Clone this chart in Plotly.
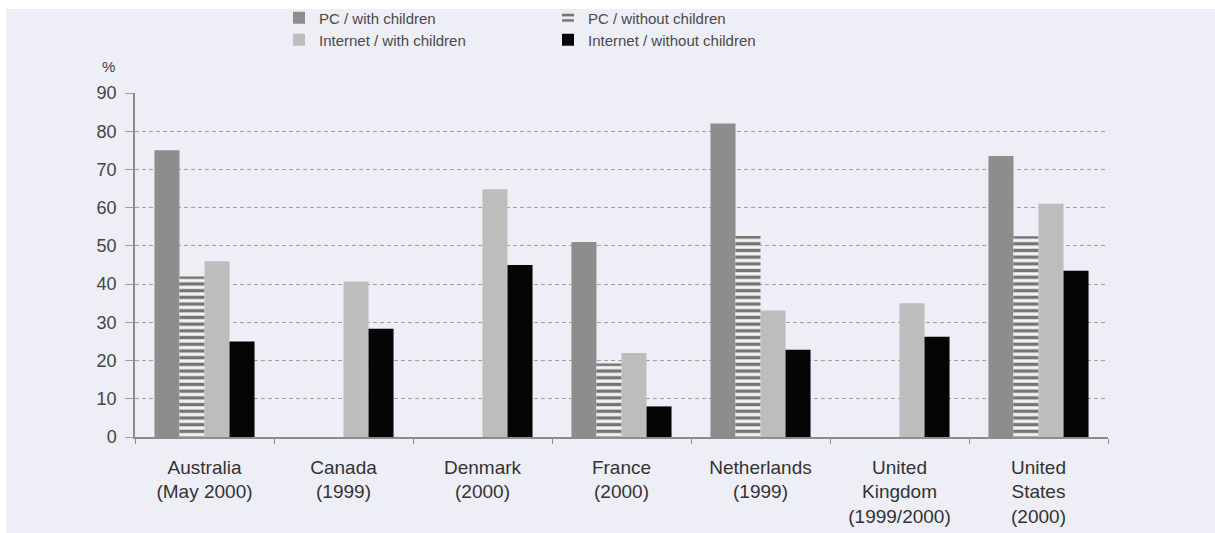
import plotly.graph_objects as go

categories = ["Australia<br>(May 2000)", "Canada<br>(1999)", "Denmark<br>(2000)", "France<br>(2000)",
              "Netherlands<br>(1999)", "United<br>Kingdom<br>(1999/2000)", "United<br>States<br>(2000)"]
pc_with = [75, None, None, 51, 82, None, 73.5]
pc_without = [42, None, None, 19.2, 52.6, None, 52.5]
inet_with = [46, 40.7, 64.8, 22, 33.1, 35, 61]
inet_without = [25, 28.3, 45, 8, 22.8, 26.2, 43.5]
y_ticks = [0, 10, 20, 30, 40, 50, 60, 70, 80, 90]

BG = "#eeeef6"
FONT = "Liberation Sans, Arial, sans-serif"
W, H = 1215, 533

fig = go.Figure()
fig.add_trace(go.Bar(name="PC / with children", x=categories, y=pc_with,
                     marker=dict(color="#8d8d8d", line=dict(width=0)), legend="legend"))
fig.add_trace(go.Bar(name="PC / without children", x=categories, y=pc_without,
                     marker=dict(color="#f4f4f4", line=dict(width=0),
                                 pattern=dict(shape="-", fgcolor="#747474", bgcolor="#f4f4f4",
                                              size=6.7, solidity=0.5, fillmode="replace")),
                     legend="legend"))
fig.add_trace(go.Bar(name="Internet / with children", x=categories, y=inet_with,
                     marker=dict(color="#bdbdbd", line=dict(width=0)), legend="legend2"))
fig.add_trace(go.Bar(name="Internet / without children", x=categories, y=inet_without,
                     marker=dict(color="#050505", line=dict(width=0)), legend="legend2"))

# plot area in screen pixels
PX0, PX1, PY0, PY1 = 135, 1108, 93, 437
L, R, T, B = PX0, W - PX1, PY0, H - PY1
pw = PX1 - PX0
ph = PY1 - PY0

legend_common = dict(orientation="h", xref="container", yref="container",
                     xanchor="left", yanchor="middle", bgcolor="rgba(0,0,0,0)",
                     font=dict(family=FONT, size=15, color="#4a4a4a"),
                     entrywidth=224, entrywidthmode="pixels", itemwidth=30,
                     traceorder="normal")

fig.update_layout(
    width=W, height=H,
    margin=dict(l=L, r=R, t=T, b=B, autoexpand=False),
    paper_bgcolor="white", plot_bgcolor=BG,
    barmode="group", bargap=0.28, bargroupgap=0,
    font=dict(family=FONT, color="#333333"),
    legend=dict(x=279 / W, y=1 - 18 / H, **legend_common),
    legend2=dict(x=279 / W, y=1 - 40 / H, **legend_common),
    xaxis=dict(showgrid=False, showline=True, linecolor="#8c8c8c", linewidth=1.5,
               ticks="outside", tickson="boundaries", ticklen=5, tickcolor="#8c8c8c",
               tickfont=dict(family=FONT, size=19, color="#333333"),
               ticklabelstandoff=12, automargin=False),
    yaxis=dict(range=[0, 90], tickvals=y_ticks, showgrid=True, gridcolor="#a0a0a0",
               griddash="4px,3px", gridwidth=1, zeroline=False,
               showline=True, linecolor="#8c8c8c", linewidth=1.5,
               ticks="outside", ticklen=8, tickcolor="#a0a0a0",
               tickfont=dict(family=FONT, size=18, color="#444444"),
               ticklabelstandoff=5, automargin=False),
    annotations=[dict(text="%", xref="paper", yref="paper", x=(108 - PX0) / pw, y=(PY1 - 66) / ph,
                      showarrow=False, xanchor="center", yanchor="middle",
                      font=dict(family=FONT, size=15, color="#444444"))],
    shapes=[dict(type="rect", xref="paper", yref="paper", layer="below",
                 x0=(6 - PX0) / pw, x1=(W - PX0) / pw + 0.02,
                 y0=(PY1 - H) / ph - 0.02, y1=(PY1 - 9) / ph,
                 fillcolor=BG, line=dict(width=0))],
)

fig.write_html("out.html", config={"displayModeBar": False},
               post_script="document.body.style.margin='0';")
